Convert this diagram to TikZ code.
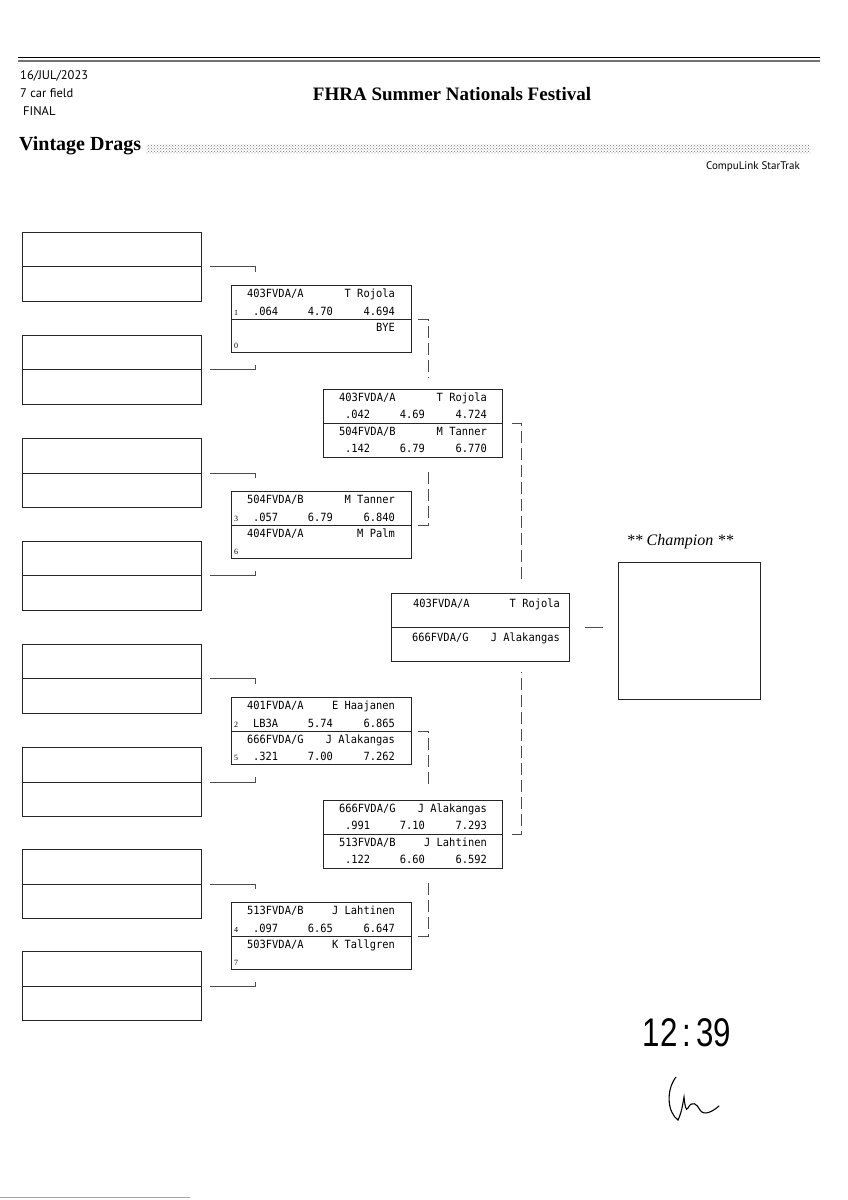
\documentclass[tikz,border=0pt]{standalone}
\usepackage{fontspec}
\setmainfont{Liberation Serif}
\newfontfamily\lanefont[FakeStretch=0.92]{DejaVu Sans Mono}
\newfontfamily\hdrfont{PT Sans}
\newfontfamily\handfont{Liberation Sans}
\usetikzlibrary{calc,patterns}
\tikzset{
	slot/.style={draw=black!85, line width=0.7pt, minimum width=179pt, minimum height=69pt, inner sep=0pt},
	heat/.style={draw=black!85, line width=0.7pt, fill=white, minimum width=180pt, minimum height=67pt, inner sep=0pt},
	car/.style={font=\lanefont\fontsize{11.3}{13}\selectfont, inner sep=0pt},
	seed/.style={font=\fontsize{8}{9}\selectfont, inner sep=0pt},
	hdr/.style={font=\hdrfont\fontsize{12.5}{14}\selectfont, inner sep=0pt},
	link/.style={draw=black!70, line width=0.6pt},
	adv/.style={link, dash pattern=on 12pt off 5pt},
}
% one lane of a heat: name, box left, lane top, seed, car, driver, r/t, dial, e/t
\newcommand\lane[9]{%
	\node[seed, anchor=base west] (#1s) at (#2+3,#3+29.5) {#4};
	\node[car, anchor=base west] (#1c) at (#2+16,#3+12) {#5};
	\node[car, anchor=base east] (#1d) at (#2+164,#3+12) {#6};
	\node[car, anchor=base west] (#1r) at (#2+22,#3+29.5) {#7};
	\node[car, anchor=base east] (#1i) at (#2+102,#3+29.5) {#8};
	\node[car, anchor=base east] (#1e) at (#2+164,#3+29.5) {#9};
}

\begin{document}
\begin{tikzpicture}[x=1pt, y=-1pt]
		%%%%% START %%%%%
		\useasboundingbox (0,0) rectangle (848,1200);
		
		\draw[line width=0.8pt] (18,57) -- (820,57);
		\draw[line width=1.3pt, black!55] (18,61) -- (820,61);
		
		\node[hdr, anchor=base west] (date) at (20,79) {16/JUL/2023};
		\node[hdr, anchor=base west] (field) at (20,97) {7 car field};
		\node[hdr, anchor=base west] (stage) at (23,115) {FINAL};
		\node[font=\bfseries\fontsize{19}{22}\selectfont] (event) at (452,94) {FHRA Summer Nationals Festival};
		\node[font=\bfseries\fontsize{20}{24}\selectfont, anchor=base west, inner sep=0pt] (class) at (19,150) {Vintage Drags};
		\fill[pattern=crosshatch dots, pattern color=black!55] (146,144) rectangle (810,153);
		\node[hdr, anchor=base east, font=\hdrfont\fontsize{11}{13}\selectfont] (soft) at (800,169) {CompuLink StarTrak};
		
		% empty ladder slots
		\foreach \i/\y in {1/266.5, 2/369.5, 3/473, 4/575.5, 5/678.5, 6/782, 7/884, 8/986} {
			\node[slot] (s\i) at (111.5,\y) {};
			\draw[black!85, line width=0.7pt] (s\i.west) -- (s\i.east);
		}
		
		% first round
		\node[heat] (h1) at (321,319) {};
		\lane{h1a}{231}{285.5}{1}{403FVDA/A}{T Rojola}{.064}{4.70}{4.694}
		\lane{h1b}{231}{319}{0}{}{BYE}{}{}{}
		
		\node[heat] (h2) at (321,525) {};
		\lane{h2a}{231}{491.5}{3}{504FVDA/B}{M Tanner}{.057}{6.79}{6.840}
		\lane{h2b}{231}{525}{6}{404FVDA/A}{M Palm}{}{}{}
		
		\node[heat] (h3) at (321,731) {};
		\lane{h3a}{231}{697.5}{2}{401FVDA/A}{E Haajanen}{LB3A}{5.74}{6.865}
		\lane{h3b}{231}{731}{5}{666FVDA/G}{J Alakangas}{.321}{7.00}{7.262}
		
		\node[heat] (h4) at (321,936) {};
		\lane{h4a}{231}{902.5}{4}{513FVDA/B}{J Lahtinen}{.097}{6.65}{6.647}
		\lane{h4b}{231}{936}{7}{503FVDA/A}{K Tallgren}{}{}{}
		
		% second round
		\node[heat, minimum width=179pt, minimum height=68pt] (h5) at (412.5,423) {};
		\lane{h5a}{323}{389}{}{403FVDA/A}{T Rojola}{.042}{4.69}{4.724}
		\lane{h5b}{323}{423}{}{504FVDA/B}{M Tanner}{.142}{6.79}{6.770}
		
		\node[heat, minimum width=179pt, minimum height=68pt] (h6) at (412.5,834) {};
		\lane{h6a}{323}{800}{}{666FVDA/G}{J Alakangas}{.991}{7.10}{7.293}
		\lane{h6b}{323}{834}{}{513FVDA/B}{J Lahtinen}{.122}{6.60}{6.592}
		
		% final
		\node[heat, minimum width=178pt, minimum height=68pt] (h7) at (480,627) {};
		\node[car, anchor=base west] (h7ac) at (413,607) {403FVDA/A};
		\node[car, anchor=base east] (h7ad) at (560,607) {T Rojola};
		\node[car, anchor=base west] (h7bc) at (412,641) {666FVDA/G};
		\node[car, anchor=base east] (h7bd) at (560,641) {J Alakangas};
		
		\foreach \h in {h1,h2,h3,h4,h5,h6,h7}
			\draw[black!85, line width=0.7pt] (\h.west) -- (\h.east);
		
		\node[draw=black!85, line width=0.7pt, minimum width=142pt, minimum height=137pt] (champ) at (689,630.5) {};
		\node[font=\itshape\fontsize{16}{18}\selectfont] (champlbl) at (680,542) {** Champion **};
		
		% slots into first round
		\foreach \i/\h in {1/h1, 3/h2, 5/h3, 7/h4}
			\draw[link] ([xshift=9pt]s\i.east) -| ([shift={(25pt,13pt)}]\h.north west);
		\foreach \i/\h in {2/h1, 4/h2, 6/h3, 8/h4}
			\draw[link] ([xshift=9pt]s\i.east) -| ([shift={(25pt,-12pt)}]\h.south west);
		
		% winners move on
		\draw[adv] ([xshift=7pt]h1.east) -| ([shift={(15.5pt,11pt)}]h5.north);
		\draw[adv] ([xshift=7pt]h2.east) -| ([shift={(15.5pt,-11pt)}]h5.south);
		\draw[adv] ([xshift=7pt]h3.east) -| ([shift={(15.5pt,11pt)}]h6.north);
		\draw[adv] ([xshift=7pt]h4.east) -| ([shift={(15.5pt,-11pt)}]h6.south);
		\draw[adv] ([xshift=10pt]h5.east) -| ([shift={(41pt,10pt)}]h7.north);
		\draw[adv] ([xshift=10pt]h6.east) -| ([shift={(41pt,-11pt)}]h7.south);
		\draw[link] ([xshift=16pt]h7.east) -- ([xshift=-15pt]h7.east -| champ.west);
		
		% handwritten time
		\node[font=\handfont\fontsize{25}{30}\selectfont] (clock) at (687,1033) {\scalebox{1.25}[1.6]{12\,:\,39}};
		\draw[line width=1.1pt, line cap=round] (676,1077) .. controls (666,1090) and (667,1112) .. (678,1120)
			.. controls (682,1112) and (683,1102) .. (684,1097) .. controls (685,1106) and (686,1112) .. (688,1108)
			.. controls (692,1100) and (697,1104) .. (700,1110) .. controls (704,1116) and (712,1112) .. (719,1106);
		
		\draw[black!35, line width=1pt] (0,1197) -- (190,1197);
		
		%%%%% END %%%%%
\end{tikzpicture}
\end{document}
